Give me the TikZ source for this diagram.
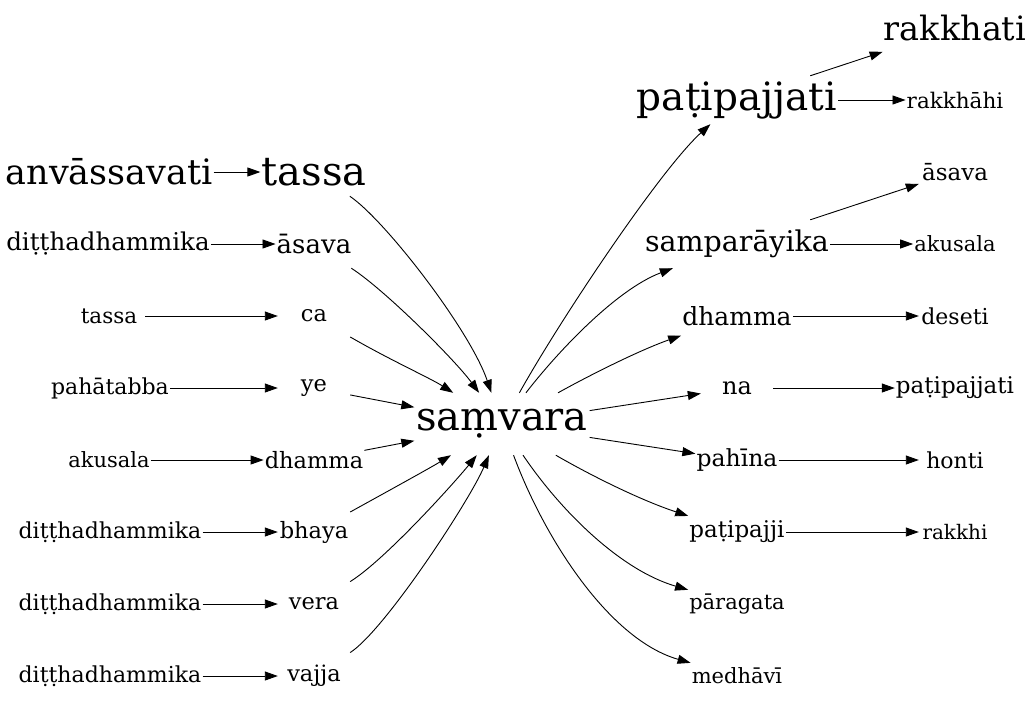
\documentclass[tikz,border=0pt]{standalone}
\usepackage{fontspec}
\newfontfamily\dvs{DejaVu Serif}
\setmainfont{DejaVu Serif}
\usetikzlibrary{arrows.meta}
\begin{document}
\begin{tikzpicture}[x=1pt,y=-1pt,
  fs/.style={font=\dvs\fontsize{#1}{#1}\selectfont},
  w/.style={rectangle, draw=none, minimum width=72pt, minimum height=48pt, inner xsep=1pt, inner ysep=0pt},
  arr/.style={draw=black, line width=0.9pt, -{Triangle[length=13pt,width=9pt]}}
]
\useasboundingbox (0,0) rectangle (1032,707);
% column 0
\node[w,fs=35] (a1) at (109,172) {anvāssavati};
\node[w,fs=24.5] (a2) at (108,244) {diṭṭhadhammika};
\node[w,fs=21.5] (a3) at (109,316) {tassa};
\node[w,fs=22] (a4) at (110,388) {pahātabba};
\node[w,fs=21] (a5) at (109,460) {akusala};
\node[w,fs=22] (a6) at (110,532) {diṭṭhadhammika};
\node[w,fs=22] (a7) at (110,604) {diṭṭhadhammika};
\node[w,fs=22] (a8) at (110,676) {diṭṭhadhammika};
% column 1
\node[w,fs=40] (b1) at (314,172) {tassa};
\node[w,fs=26] (b2) at (314,244) {āsava};
\node[w,fs=22.5] (b3) at (314,316) {ca};
\node[w,fs=22.5] (b4) at (314,388) {ye};
\node[w,fs=22.5] (b5) at (314,460) {dhamma};
\node[w,fs=22.5] (b6) at (314,532) {bhaya};
\node[w,fs=22.5] (b7) at (314,604) {vera};
\node[w,fs=22.5] (b8) at (314,676) {vajja};
% centre
\node[w,fs=40,minimum width=175pt,minimum height=62pt] (s) at (502,424) {saṃvara};
% column 3
\node[w,fs=39] (c1) at (737,100) {paṭipajjati};
\node[w,fs=28.5] (c2) at (737,244) {samparāyika};
\node[w,fs=25] (c3) at (737,316) {dhamma};
\node[w,fs=24] (c4) at (737,388) {na};
\node[w,fs=23.5] (c5) at (737,460) {pahīna};
\node[w,fs=23] (c6) at (737,532) {paṭipajji};
\node[w,fs=21] (c7) at (737,604) {pāragata};
\node[w,fs=21] (c8) at (737,676) {medhāvī};
% column 4
\node[w,fs=33.5] (d1) at (955,28) {rakkhati};
\node[w,fs=21.5] (d2) at (955,100) {rakkhāhi};
\node[w,fs=23] (d3) at (955,172) {āsava};
\node[w,fs=21] (d4) at (955,244) {akusala};
\node[w,fs=22] (d5) at (955,316) {deseti};
\node[w,fs=23] (d6) at (955,388) {paṭipajjati};
\node[w,fs=22] (d7) at (955,460) {honti};
\node[w,fs=20] (d8) at (955,532) {rakkhi};
% edges col0 -> col1
\foreach \i in {1,...,8} \draw[arr] (a\i) -- (b\i);
% edges col1 -> centre
\draw[arr] (b1) .. controls (385,220) and (470,330) .. (s);
\draw[arr] (b2) .. controls (385,290) and (455,360) .. (s);
\draw[arr] (b3) .. controls (390,360) and (430,378) .. (s);
\draw[arr] (b4) -- (s);
\draw[arr] (b5) -- (s);
\draw[arr] (b6) .. controls (390,490) and (430,468) .. (s);
\draw[arr] (b7) .. controls (385,560) and (455,482) .. (s);
\draw[arr] (b8) .. controls (385,630) and (470,500) .. (s);
% centre -> col3
\draw[arr] (s) .. controls (560,320) and (660,170) .. (c1);
\draw[arr] (s) .. controls (555,355) and (615,290) .. (c2);
\draw[arr] (s) .. controls (590,375) and (640,350) .. (c3);
\draw[arr] (s) -- (c4);
\draw[arr] (s) -- (c5);
\draw[arr] (s) .. controls (590,475) and (640,500) .. (c6);
\draw[arr] (s) .. controls (560,510) and (620,570) .. (c7);
\draw[arr] (s) .. controls (545,540) and (610,640) .. (c8);
% col3 -> col4
\draw[arr] (c1) -- (d1);
\draw[arr] (c1) -- (d2);
\draw[arr] (c2) -- (d3);
\draw[arr] (c2) -- (d4);
\draw[arr] (c3) -- (d5);
\draw[arr] (c4) -- (d6);
\draw[arr] (c5) -- (d7);
\draw[arr] (c6) -- (d8);
\end{tikzpicture}
\end{document}
